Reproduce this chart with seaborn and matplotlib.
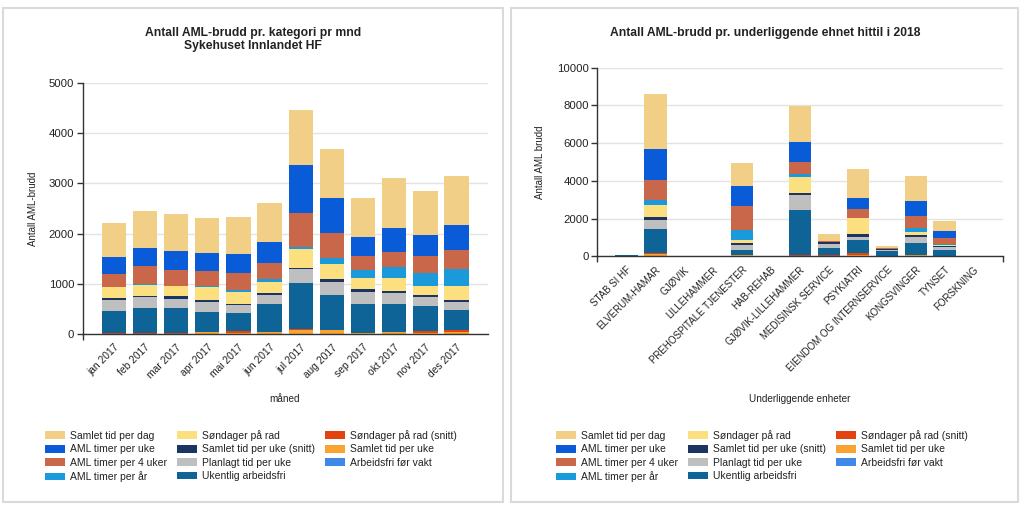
import matplotlib
matplotlib.use('Agg')
import matplotlib.pyplot as plt
from matplotlib.patches import Patch, Rectangle
import numpy as np
import seaborn as sns

sns.set_theme(style='white')
plt.rcParams['font.family'] = ['Liberation Sans', 'DejaVu Sans']

W, H = 1023, 507

# series names (stack order bottom -> top) and colours
series = ['Arbeidsfri før vakt', 'Samlet tid per uke', 'Søndager på rad (snitt)',
          'Ukentlig arbeidsfri', 'Planlagt tid per uke', 'Samlet tid per uke (snitt)',
          'Søndager på rad', 'AML timer per år', 'AML timer per 4 uker',
          'AML timer per uke', 'Samlet tid per dag']
colors = {
    'Samlet tid per dag': '#F2CF87',
    'AML timer per uke': '#0A5BD8',
    'AML timer per 4 uker': '#C9674A',
    'AML timer per år': '#1B9ADB',
    'Søndager på rad': '#FCE07F',
    'Samlet tid per uke (snitt)': '#1C3461',
    'Planlagt tid per uke': '#BFBFBF',
    'Ukentlig arbeidsfri': '#0E6496',
    'Søndager på rad (snitt)': '#E2430F',
    'Samlet tid per uke': '#F8A332',
    'Arbeidsfri før vakt': '#3F88E8',
}
legend_order = ['Samlet tid per dag', 'AML timer per uke', 'AML timer per 4 uker', 'AML timer per år',
                'Søndager på rad', 'Samlet tid per uke (snitt)', 'Planlagt tid per uke', 'Ukentlig arbeidsfri',
                'Søndager på rad (snitt)', 'Samlet tid per uke', 'Arbeidsfri før vakt']

# left chart: per month 2017
months = ['jan 2017', 'feb 2017', 'mar 2017', 'apr 2017', 'mai 2017', 'jun 2017',
          'jul 2017', 'aug 2017', 'sep 2017', 'okt 2017', 'nov 2017', 'des 2017']
m_arbeidsfri_for_vakt = [0, 0, 0, 0, 0, 0, 0, 0, 0, 0, 0, 0]
m_samlet_uke = [5, 5, 5, 40, 10, 40, 85, 70, 10, 40, 10, 30]
m_sondager_snitt = [5, 15, 7, 7, 43, 7, 15, 16, 17, 7, 43, 50]
m_ukentlig = [455, 505, 500, 398, 359, 551, 917, 691, 571, 551, 505, 398]
m_planlagt = [213, 213, 192, 200, 166, 186, 272, 266, 246, 219, 186, 160]
m_samlet_snitt = [33, 26, 60, 39, 27, 40, 20, 53, 53, 40, 33, 40]
m_sondager = [233, 216, 193, 260, 226, 213, 386, 293, 213, 253, 187, 272]
m_aml_aar = [0, 10, 0, 13, 46, 59, 46, 119, 166, 219, 259, 346]
m_aml_4uker = [259, 366, 319, 299, 339, 326, 665, 499, 273, 306, 332, 379]
m_aml_uke = [339, 365, 385, 352, 372, 419, 963, 704, 385, 485, 419, 498]
m_samlet_dag = [664, 731, 731, 698, 738, 770, 1097, 970, 784, 990, 877, 977]

# right chart: per unit 2018
units = ['STAB SI HF', 'ELVERUM-HAMAR', 'GJØVIK', 'LILLEHAMMER', 'PREHOSPITALE TJENESTER',
         'HAB-REHAB', 'GJØVIK-LILLEHAMMER', 'MEDISINSK SERVICE', 'PSYKIATRI',
         'EIENDOM OG INTERNSERVICE', 'KONGSVINGER', 'TYNSET', 'FORSKNING']
u_arbeidsfri_for_vakt = [0, 0, 0, 0, 0, 0, 0, 0, 0, 0, 0, 0, 0]
u_samlet_uke = [0, 100, 0, 0, 60, 0, 38, 30, 57, 20, 50, 25, 0]
u_sondager_snitt = [0, 77, 0, 0, 30, 0, 50, 23, 120, 15, 38, 15, 0]
u_ukentlig = [70, 1257, 0, 0, 229, 0, 2390, 372, 708, 248, 620, 314, 0]
u_planlagt = [15, 495, 0, 0, 283, 0, 797, 248, 159, 71, 336, 124, 0]
u_samlet_snitt = [10, 160, 0, 0, 106, 0, 88, 90, 124, 56, 71, 53, 0]
u_sondager = [0, 637, 0, 0, 177, 20, 850, 0, 868, 0, 177, 89, 0]
u_aml_aar = [0, 248, 0, 0, 531, 0, 177, 0, 20, 0, 212, 53, 0]
u_aml_4uker = [0, 1062, 0, 0, 1239, 0, 619, 60, 457, 50, 620, 301, 0]
u_aml_uke = [0, 1628, 0, 0, 1097, 0, 1044, 9, 602, 0, 797, 354, 0]
u_samlet_dag = [0, 2921, 0, 0, 1204, 0, 1912, 372, 1522, 106, 1362, 548, 0]

left_layers = [m_arbeidsfri_for_vakt, m_samlet_uke, m_sondager_snitt, m_ukentlig, m_planlagt,
               m_samlet_snitt, m_sondager, m_aml_aar, m_aml_4uker, m_aml_uke, m_samlet_dag]
right_layers = [u_arbeidsfri_for_vakt, u_samlet_uke, u_sondager_snitt, u_ukentlig, u_planlagt,
                u_samlet_snitt, u_sondager, u_aml_aar, u_aml_4uker, u_aml_uke, u_samlet_dag]


def px_axes(fig, x0, y0, x1, y1):
    return fig.add_axes([x0 / W, 1 - y1 / H, (x1 - x0) / W, (y1 - y0) / H])


def stacked(ax, cats, layers, ymax, ystep, ylabel):
    cum = np.cumsum(np.array(layers, dtype=float), axis=0)
    # draw from top of stack down so lower layers sit on top
    for i in range(len(series) - 1, -1, -1):
        sns.barplot(x=cats, y=cum[i], color=colors[series[i]], saturation=1,
                    width=0.78, linewidth=0, errorbar=None, ax=ax, zorder=3)
    n = len(cats)
    ax.set_ylim(0, ymax)
    ax.set_yticks(np.arange(0, ymax + 1, ystep))
    ax.yaxis.grid(True, color='#E3E3E3', lw=1, zorder=0)
    ax.set_axisbelow(True)
    for s in ['top', 'right']:
        ax.spines[s].set_visible(False)
    for s in ['left', 'bottom']:
        ax.spines[s].set_color('#333333')
        ax.spines[s].set_linewidth(1)
        ax.spines[s].set_zorder(5)
    ax.tick_params(axis='y', length=4, width=1, color='#333333', labelsize=8.2, pad=2,
                   labelcolor='#222222', left=True)
    ax.set_xticks(range(n))
    ax.set_xticklabels(cats, rotation=45, ha='right', rotation_mode='anchor')
    ax.set_xticks(np.arange(-1, n + 1, 2), minor=True)
    ax.tick_params(axis='x', which='major', length=0, pad=6, labelsize=7.4 if n == 12 else 7,
                   labelcolor='#222222')
    ax.tick_params(axis='x', which='minor', length=4, width=1, color='#333333', bottom=True)
    ax.set_ylabel(ylabel, fontsize=7, color='#222222')
    ax.set_xlabel('')


fig = plt.figure(figsize=(W / 100, H / 100), dpi=100)

# panel frames
for x0, x1 in [(3, 503), (511, 1018)]:
    fig.patches.append(Rectangle((x0 / W, 1 - 502 / H), (x1 - x0) / W, (502 - 8) / H,
                                 transform=fig.transFigure, fill=False,
                                 edgecolor='#DADADA', lw=1.5))

ax1 = px_axes(fig, 82.7, 83, 487.7, 334)
stacked(ax1, months, left_layers, 5000, 1000, 'Antall AML-brudd')
ax1.set_xlim(-1, 12)
ax1.yaxis.set_label_coords(-0.11, 0.5)

ax2 = px_axes(fig, 597.3, 67.7, 1002.7, 256.3)
stacked(ax2, units, right_layers, 10000, 2000, 'Antall AML brudd')
ax2.set_xlim(-1, 13)
ax2.yaxis.set_label_coords(-0.128, 0.5)

fig.text(253 / W, 1 - 33 / H, 'Antall AML-brudd pr. kategori pr mnd', ha='center', va='center',
         fontsize=8.7, fontweight='bold', color='#222222')
fig.text(253 / W, 1 - 46 / H, 'Sykehuset Innlandet HF', ha='center', va='center',
         fontsize=8.7, fontweight='bold', color='#222222')
fig.text(765 / W, 1 - 33 / H, 'Antall AML-brudd pr. underliggende ehnet hittil i 2018', ha='center',
         va='center', fontsize=8.7, fontweight='bold', color='#222222')
fig.text(285 / W, 1 - 399 / H, 'måned', ha='center', va='center', fontsize=7.2, color='#222222')
fig.text(800 / W, 1 - 399 / H, 'Underliggende enheter', ha='center', va='center', fontsize=7.2,
         color='#222222')

handles = [Patch(facecolor=colors[s], edgecolor='none', label=s) for s in legend_order]
for lx in [45, 556]:
    fig.legend(handles=handles, ncol=3, loc='upper left',
               bbox_to_anchor=(lx / W, 1 - 430 / H), frameon=False, fontsize=7.5,
               handlelength=1.95, handleheight=0.78, handletextpad=0.45,
               labelspacing=0.33, columnspacing=0.95, borderaxespad=0, borderpad=0,
               labelcolor='#222222')

fig.savefig('out.png', dpi=100)
